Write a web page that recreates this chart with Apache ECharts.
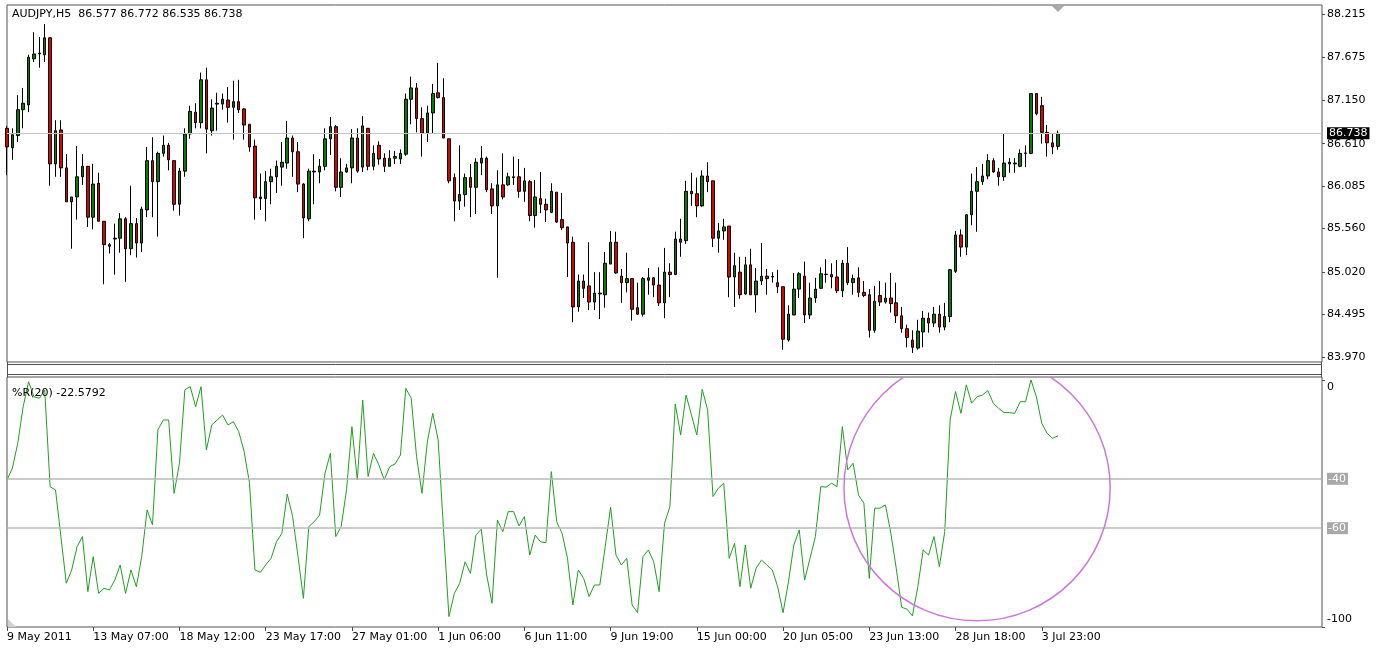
<!DOCTYPE html>
<html>
<head>
    <meta charset="utf-8">
    <title>AUDJPY,H5</title>
    <script src="https://cdn.jsdelivr.net/npm/echarts/dist/echarts.min.js"></script>
    <style>
        html, body { margin: 0; padding: 0; background: #fff; }
        #main { width: 1380px; height: 648px; }
    </style>
</head>
<body>
<div id="main"></div>
<script>
    var symbolName = 'AUDJPY,H5';

    // one label every 16 bars
    var tickLabels = ['9 May 2011', '13 May 07:00', '18 May 12:00', '23 May 17:00', '27 May 01:00',
        '1 Jun 06:00', '6 Jun 11:00', '9 Jun 19:00', '15 Jun 00:00', '20 Jun 05:00',
        '23 Jun 13:00', '28 Jun 18:00', '3 Jul 23:00'];

    var priceTicks = [88.215, 87.675, 87.150, 86.610, 86.085, 85.560, 85.020, 84.495, 83.970];
    var wprTop = 0;
    var wprBottom = -100;
    var wprLevels = [-40, -60];

    var open = [
        86.80, 86.56, 86.71, 87.03, 87.09, 87.66, 87.72, 87.71, 87.92, 86.36,
        86.78, 86.31, 85.89, 85.95, 86.20, 86.33, 85.70, 86.12, 85.65, 85.36,
        85.43, 85.44, 85.68, 85.31, 85.62, 85.38, 85.79, 86.40, 86.14, 86.49,
        86.59, 86.40, 85.86, 86.27, 86.73, 87.00, 86.87, 87.40, 86.77, 87.10,
        87.10, 87.15, 87.06, 87.13, 87.04, 86.85, 86.58, 85.95, 85.93, 86.14,
        86.20, 86.32, 86.37, 86.68, 86.51, 86.11, 85.68, 86.27, 86.26, 86.33,
        86.67, 86.82, 86.07, 86.26, 86.31, 86.68, 86.32, 86.80, 86.33, 86.59,
        86.43, 86.33, 86.43, 86.42, 86.48, 87.16, 87.30, 86.92, 86.74, 86.99,
        87.24, 87.18, 86.67, 86.19, 85.90, 85.98, 86.19, 86.07, 86.37, 86.43,
        86.05, 85.84, 86.10, 86.10, 86.20, 86.20, 86.02, 86.14, 85.72, 85.93,
        85.86, 85.76, 86.01, 85.67, 85.58, 85.39, 84.59, 84.91, 84.85, 84.65,
        84.76, 84.74, 85.12, 85.39, 84.97, 84.89, 84.94, 84.58, 84.50, 84.92,
        84.95, 84.86, 84.64, 85.02, 84.99, 85.43, 85.41, 86.02, 85.99, 85.84,
        86.21, 86.15, 85.44, 85.53, 85.59, 84.96, 85.02, 84.75, 85.11, 84.74,
        84.91, 84.97, 84.96, 84.89, 84.84, 84.18, 84.49, 84.81, 84.97, 84.49,
        84.70, 84.82, 84.99, 84.99, 84.96, 84.79, 85.13, 84.89, 84.95, 84.77,
        84.74, 84.30, 84.73, 84.65, 84.70, 84.64, 84.48, 84.32, 84.18, 84.08,
        84.28, 84.45, 84.39, 84.50, 84.34, 84.47, 85.03, 85.48, 85.33, 85.73,
        86.02, 86.14, 86.21, 86.40, 86.26, 86.20, 86.36, 86.36, 86.33, 86.49,
        86.49, 87.23, 87.08, 86.75, 86.62, 86.577
    ];
    var close = [
        86.57, 86.72, 87.03, 87.11, 87.68, 87.72, 87.73, 87.92, 86.36, 86.77,
        86.31, 85.89, 85.95, 86.20, 86.33, 85.70, 86.11, 85.65, 85.36, 85.34,
        85.44, 85.68, 85.31, 85.62, 85.38, 85.80, 86.40, 86.14, 86.49, 86.59,
        86.41, 85.86, 86.27, 86.73, 87.01, 86.87, 87.40, 86.79, 87.05, 87.11,
        87.16, 87.06, 87.13, 87.03, 86.84, 86.57, 85.94, 85.93, 86.14, 86.20,
        86.33, 86.38, 86.68, 86.51, 86.11, 85.69, 86.27, 86.26, 86.33, 86.67,
        86.82, 86.07, 86.26, 86.31, 86.68, 86.27, 86.83, 86.33, 86.49, 86.42,
        86.33, 86.43, 86.45, 86.49, 87.16, 87.30, 86.92, 86.74, 86.99, 87.23,
        87.18, 86.68, 86.15, 85.90, 85.98, 86.19, 86.07, 86.38, 86.43, 86.04,
        85.84, 86.10, 85.95, 86.20, 86.19, 86.02, 86.15, 85.72, 85.95, 85.86,
        85.79, 86.02, 85.64, 85.57, 85.38, 84.59, 84.91, 84.82, 84.65, 84.76,
        84.75, 85.13, 85.39, 85.01, 84.89, 84.94, 84.56, 84.50, 84.94, 84.95,
        84.86, 84.64, 85.02, 84.99, 85.43, 85.39, 86.02, 85.99, 85.84, 86.21,
        86.14, 85.44, 85.53, 85.58, 84.96, 85.10, 84.74, 85.11, 84.74, 84.91,
        84.97, 84.94, 84.965, 84.84, 84.19, 84.50, 84.81, 85.00, 84.49, 84.70,
        84.81, 85.00, 84.995, 84.96, 84.79, 85.13, 84.89, 84.94, 84.77, 84.73,
        84.30, 84.66, 84.65, 84.70, 84.63, 84.48, 84.32, 84.21, 84.09, 84.29,
        84.45, 84.39, 84.50, 84.34, 84.47, 85.05, 85.48, 85.33, 85.73, 86.02,
        86.14, 86.21, 86.40, 86.26, 86.20, 86.37, 86.38, 86.37, 86.49, 86.495,
        87.23, 86.98, 86.75, 86.62, 86.57, 86.738
    ];
    var low = [
        86.22, 86.41, 86.63, 86.80, 87.00, 87.62, 87.55, 87.62, 86.09, 86.20,
        86.20, 85.89, 85.31, 85.67, 86.10, 85.58, 85.55, 85.65, 84.87, 85.25,
        84.99, 85.26, 84.90, 85.23, 85.20, 85.27, 85.70, 85.70, 85.46, 86.45,
        86.28, 85.78, 85.72, 86.20, 86.67, 86.80, 86.80, 86.49, 86.71, 86.77,
        87.03, 86.87, 86.66, 86.99, 86.66, 86.51, 85.67, 85.79, 85.65, 85.86,
        86.00, 86.09, 86.30, 86.20, 86.01, 85.44, 85.65, 85.86, 86.12, 86.28,
        86.47, 86.02, 85.95, 86.25, 86.12, 86.25, 86.26, 86.28, 86.28, 86.35,
        86.26, 86.33, 86.36, 86.36, 86.46, 86.85, 86.75, 86.45, 86.63, 86.74,
        87.17, 86.68, 86.12, 85.65, 85.79, 85.83, 85.70, 85.74, 86.22, 86.01,
        85.74, 84.95, 85.92, 86.09, 86.10, 85.94, 85.89, 85.65, 85.57, 85.75,
        85.64, 85.75, 85.63, 85.54, 84.96, 84.40, 84.53, 84.70, 84.55, 84.55,
        84.44, 84.58, 85.12, 85.00, 84.64, 84.77, 84.42, 84.49, 84.47, 84.74,
        84.71, 84.60, 84.45, 84.71, 84.99, 85.21, 85.37, 85.84, 85.70, 85.83,
        86.01, 85.33, 85.26, 85.42, 84.71, 84.59, 84.69, 84.74, 84.74, 84.52,
        84.86, 84.74, 84.89, 84.76, 84.06, 84.16, 84.49, 84.70, 84.39, 84.44,
        84.64, 84.81, 84.89, 84.82, 84.76, 84.71, 84.86, 84.74, 84.71, 84.71,
        84.21, 84.27, 84.60, 84.63, 84.52, 84.39, 84.27, 84.09, 84.02, 84.06,
        84.09, 84.27, 84.34, 84.27, 84.30, 84.40, 85.01, 85.21, 85.23, 85.60,
        85.52, 86.10, 86.17, 86.25, 86.09, 86.15, 86.25, 86.25, 86.32, 86.32,
        86.48, 86.96, 86.61, 86.45, 86.48, 86.535
    ];
    var high = [
        86.83, 86.80, 87.21, 87.30, 87.71, 87.99, 87.93, 88.09, 87.92, 86.90,
        86.90, 86.48, 85.95, 86.58, 86.48, 86.33, 86.36, 86.25, 85.65, 85.38,
        85.62, 85.75, 85.70, 86.09, 85.69, 85.83, 86.57, 86.69, 86.51, 86.71,
        86.62, 86.40, 86.31, 86.80, 87.08, 87.11, 87.49, 87.55, 87.16, 87.24,
        87.23, 87.31, 87.39, 87.40, 87.05, 86.85, 86.66, 86.24, 86.27, 86.30,
        86.40, 86.63, 86.89, 86.71, 86.63, 86.12, 86.30, 86.48, 86.42, 86.80,
        86.94, 86.84, 86.43, 86.36, 86.79, 86.80, 86.95, 86.80, 86.59, 86.64,
        86.49, 86.53, 86.52, 86.54, 87.23, 87.44, 87.36, 87.06, 87.08, 87.35,
        87.61, 87.42, 86.67, 86.24, 86.59, 86.24, 86.36, 86.43, 86.58, 86.45,
        86.12, 86.28, 86.49, 86.25, 86.45, 86.42, 86.31, 86.16, 86.16, 86.26,
        85.93, 86.12, 86.01, 86.00, 85.58, 85.46, 84.99, 84.99, 85.39, 85.02,
        85.02, 85.27, 85.53, 85.52, 85.06, 85.26, 84.94, 84.89, 84.96, 85.07,
        84.96, 85.08, 85.32, 85.13, 85.52, 85.68, 86.15, 86.25, 86.19, 86.28,
        86.38, 86.15, 85.63, 85.68, 85.59, 85.26, 85.21, 85.21, 85.31, 85.07,
        85.38, 85.06, 85.02, 85.05, 84.84, 84.61, 85.01, 85.02, 85.15, 84.89,
        84.95, 85.08, 85.18, 85.13, 85.17, 85.17, 85.33, 84.99, 85.08, 84.91,
        84.81, 84.85, 84.91, 84.89, 85.01, 84.89, 84.59, 84.37, 84.30, 84.43,
        84.54, 84.52, 84.59, 84.61, 84.64, 85.06, 85.53, 85.55, 85.74, 86.24,
        86.32, 86.36, 86.48, 86.43, 86.31, 86.73, 86.43, 86.43, 86.54, 86.59,
        87.23, 87.23, 87.19, 86.84, 86.73, 86.772
    ];

    // Williams %R(20)
    var wpr = [
        -40.5, -35.7, -25.6, -10.8, -0.7, -6.8, -7.4, -4.0, -43.2, -44.5,
        -63.4, -82.3, -76.9, -67.5, -63.4, -85.7, -71.5, -86.4, -84.3, -85.0,
        -81.0, -74.9, -86.4, -76.9, -83.7, -71.5, -52.6, -58.7, -20.2, -16.2,
        -16.2, -45.9, -33.7, -4.0, -2.7, -10.8, -2.7, -28.3, -18.2, -16.2,
        -14.2, -18.2, -16.9, -20.9, -29.0, -41.8, -76.9, -77.9, -74.9, -72.2,
        -65.5, -62.1, -46.2, -55.3, -71.5, -88.4, -59.4, -57.4, -54.7, -37.8,
        -29.7, -63.4, -59.4, -44.5, -18.9, -40.5, -8.1, -39.1, -29.7, -34.4,
        -40.5, -35.1, -34.0, -30.4, -3.4, -7.4, -31.1, -45.9, -25.0, -13.5,
        -24.3, -60.7, -95.8, -86.4, -82.3, -73.6, -78.3, -62.8, -60.4, -78.9,
        -90.4, -56.7, -61.4, -53.3, -53.3, -59.1, -55.3, -70.9, -62.8, -65.5,
        -65.9, -37.1, -57.4, -62.1, -72.2, -91.1, -76.9, -80.3, -87.7, -83.0,
        -83.0, -67.5, -51.5, -70.9, -74.9, -72.2, -91.1, -94.2, -71.5, -68.8,
        -73.6, -85.7, -58.0, -51.3, -9.7, -22.3, -6.1, -14.2, -22.3, -3.8,
        -12.1, -47.2, -43.8, -41.8, -72.2, -66.1, -83.7, -66.8, -84.3, -76.2,
        -72.9, -74.9, -76.9, -83.7, -94.2, -81.7, -66.8, -60.7, -81.0, -72.2,
        -63.4, -43.2, -43.4, -41.8, -43.2, -18.9, -36.4, -33.7, -46.6, -49.9,
        -80.3, -51.9, -51.9, -50.6, -62.1, -76.2, -92.0, -92.8, -95.5, -83.7,
        -68.8, -70.9, -63.4, -75.6, -61.4, -16.2, -4.7, -13.5, -2.0, -9.4,
        -6.8, -6.1, -4.3, -9.4, -11.5, -13.2, -13.2, -13.5, -8.8, -8.8,
        0, -6.8, -17.5, -21.6, -23.6, -22.5792
    ];

    // hand drawn circle on the indicator window: [bar index, %R value], radius in bars / %R units
    var circleCenter = [180, -43.7];
    var circleRadius = [24.7, 53.8];

    var barsPerLabel = 16;
    var slotCount = 245;   // empty space right of the last bar (chart shift)
    var last = close.length - 1;

    var categories = [];
    for (var i = 0; i < slotCount; i++) {
        var k = i / barsPerLabel;
        categories.push(i % barsPerLabel === 0 && k < tickLabels.length ? tickLabels[k] : '');
    }
    function isLabel(i) {
        return i % barsPerLabel === 0 && i / barsPerLabel < tickLabels.length;
    }

    var candles = open.map(function (o, i) {
        return [o, close[i], low[i], high[i]];
    });

    var font = 'DejaVu Sans';
    var frame = '#505050';
    var wprMax = 1.2;   // a little room above 0 inside the frame

    function wprAxis(value, align, pad) {
        return {
            type: 'value', gridIndex: 1, position: 'right', min: -100, max: wprMax,
            axisLine: { show: false, onZero: false }, splitLine: { show: false },
            axisTick: { show: true, customValues: [value], length: 3, lineStyle: { color: frame } },
            axisLabel: {
                customValues: [value], margin: 5, fontSize: 11, color: '#000',
                verticalAlign: align, padding: pad
            }
        };
    }

    var option = {
        animation: false,
        backgroundColor: '#ffffff',
        textStyle: { fontFamily: font },
        title: [
            {
                text: symbolName + '  ' + [open[last], high[last], low[last], close[last]].map(function (v) { return v.toFixed(3); }).join(' '),
                left: 12, top: 9, padding: 0,
                textStyle: { fontSize: 11, fontWeight: 'normal', color: '#000', fontFamily: font }
            },
            {
                text: '%R(20) ' + wpr[last].toFixed(4),
                left: 12, top: 388, padding: 0,
                textStyle: { fontSize: 11, fontWeight: 'normal', color: '#000', fontFamily: font }
            }
        ],
        grid: [
            { left: 7, top: 5, width: 1315, height: 357, show: true, borderColor: frame, borderWidth: 1 },
            { left: 7, top: 377, width: 1315, height: 250, show: true, borderColor: frame, borderWidth: 1 }
        ],
        xAxis: [
            {
                type: 'category', gridIndex: 0, data: categories, boundaryGap: false,
                axisLine: { show: false, onZero: false }, axisTick: { show: false }, axisLabel: { show: false },
                splitLine: { show: false }
            },
            {
                type: 'category', gridIndex: 1, data: categories, boundaryGap: false,
                axisLine: { show: false, onZero: false },
                axisTick: { show: true, interval: isLabel, length: 4, lineStyle: { color: frame } },
                axisLabel: { interval: isLabel, align: 'left', margin: 5, fontSize: 11, color: '#000' },
                splitLine: { show: false }
            }
        ],
        yAxis: [
            {
                type: 'value', gridIndex: 0, position: 'right', min: 83.908, max: 88.326,
                axisLine: { show: false }, splitLine: { show: false },
                axisTick: { show: true, customValues: priceTicks, length: 3, lineStyle: { color: frame } },
                axisLabel: {
                    customValues: priceTicks, margin: 5, fontSize: 11, color: '#000',
                    formatter: function (v) { return v.toFixed(3); }
                }
            },
            wprAxis(wprTop, 'top', [2, 0, 0, 0]),
            wprAxis(wprBottom, 'bottom', [0, 0, 2, 0])
        ],
        series: [
            {
                name: symbolName,
                type: 'candlestick',
                xAxisIndex: 0, yAxisIndex: 0,
                data: candles,
                barWidth: 3,
                itemStyle: {
                    color: '#008000', color0: '#e00000',
                    borderColor: '#000', borderColor0: '#000', borderWidth: 1
                },
                markLine: {
                    silent: true, symbol: 'none', animation: false,
                    data: [{ yAxis: close[last] }],
                    lineStyle: { color: '#c4c4c4', type: 'solid', width: 1 },
                    label: {
                        position: 'end', distance: 5,
                        formatter: function () { return close[last].toFixed(3); },
                        backgroundColor: '#000', color: '#fff', fontSize: 11,
                        fontFamily: font, padding: [1, 2, 0, 2]
                    }
                }
            },
            {
                name: '%R(20)',
                type: 'line',
                xAxisIndex: 1, yAxisIndex: 1,
                data: wpr,
                symbol: 'none',
                lineStyle: { color: '#20a020', width: 1 },
                markLine: {
                    silent: true, symbol: 'none', animation: false,
                    data: wprLevels.map(function (v) { return { yAxis: v }; }),
                    lineStyle: { color: '#b8b8b8', type: 'solid', width: 1.5 },
                    label: {
                        position: 'end', distance: 5,
                        formatter: function (p) { return String(p.value); },
                        backgroundColor: '#a8a8a8', color: '#fff', fontSize: 11,
                        fontFamily: font, padding: [1, 2, 0, 1]
                    }
                }
            },
            {
                type: 'custom',
                xAxisIndex: 1, yAxisIndex: 1,
                clip: true, silent: true, z: 5,
                data: [circleCenter],
                renderItem: function (params, api) {
                    var c = api.coord([api.value(0), api.value(1)]);
                    var step = api.coord([api.value(0) + 1, api.value(1)])[0] - c[0];
                    var ry = api.size([0, circleRadius[1]])[1];
                    return {
                        type: 'ellipse',
                        shape: { cx: c[0], cy: c[1], rx: step * circleRadius[0], ry: ry },
                        style: { fill: 'none', stroke: '#cc77dd', lineWidth: 1.5 }
                    };
                }
            }
        ],
        graphic: [
            { type: 'line', shape: { x1: 7, y1: 364.5, x2: 1322, y2: 364.5 }, style: { stroke: frame, lineWidth: 1 } },
            { type: 'line', shape: { x1: 7, y1: 374.5, x2: 1322, y2: 374.5 }, style: { stroke: frame, lineWidth: 1 } },
            { type: 'line', shape: { x1: 7.5, y1: 362, x2: 7.5, y2: 377 }, style: { stroke: frame, lineWidth: 1 } },
            { type: 'line', shape: { x1: 1321.5, y1: 362, x2: 1321.5, y2: 377 }, style: { stroke: frame, lineWidth: 1 } },
            { type: 'polygon', shape: { points: [[1052, 6], [1064, 6], [1058, 12]] }, style: { fill: '#a8a8a8' } },
            { type: 'polygon', shape: { points: [[8, 619], [8, 627], [16, 627]] }, style: { fill: '#cfcfcf' } }
        ]
    };

    var myChart = echarts.init(document.getElementById('main'));
    myChart.setOption(option);
</script>
</body>
</html>
